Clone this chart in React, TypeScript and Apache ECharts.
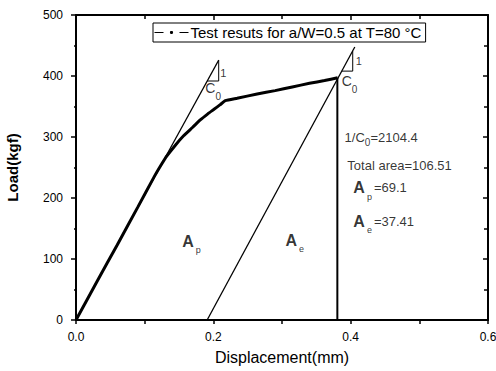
import React, { useEffect, useRef } from "react";
import * as echarts from "echarts";

// Test curve (displacement in mm, load in kgf)
const curveX = [0, 0.03, 0.06, 0.09, 0.113, 0.125, 0.1324, 0.145, 0.1567, 0.17, 0.181, 0.192, 0.2005, 0.21, 0.2175, 0.2346, 0.2638, 0.29, 0.315, 0.34, 0.362, 0.381];
const curveLoad = [0, 62, 123, 185, 233, 256, 269, 287, 302, 316, 328, 338, 345, 353, 359.5, 363.5, 370.5, 376, 382, 388, 392.5, 397];

// Initial tangent (slope 1/C0)
const tangentX = [0, 0.2078];
const tangentLoad = [0, 426];
// Slope triangle on tangent
const tri1X = [0.1908, 0.2078, 0.2078];
const tri1Load = [391.8, 391.8, 426];

// Unloading line (parallel to tangent)
const unloadX = [0.191, 0.406];
const unloadLoad = [0, 447.5];
const tri2X = [0.387, 0.403, 0.403];
const tri2Load = [408, 408, 441];

// Vertical line at max displacement
const vertX = [0.3806, 0.3806];
const vertLoad = [0, 397];

// Axis ticks
const xTicks = [0, 0.2, 0.4, 0.6];
const yTicks = [0, 100, 200, 300, 400, 500];

const legendName = "Test resuts for a/W=0.5 at T=80 °C";

// Annotation texts and their anchors (data coordinates)
const annTexts = [
  "{one|1}",
  "{c|C}{sub|0}",
  "{one|1}",
  "{c|C}{sub|0}",
  "{t|1/C}{sub2|0}{t|=2104.4}",
  "{t|Total area=106.51}",
  "{A|A}{sp|p}{t|=69.1}",
  "{A|A}{se|e}{t|=37.41}",
  "{A|A}{sp2|p}",
  "{A|A}{se2|e}",
];
const annX = [0.2102, 0.1883, 0.4073, 0.3869, 0.3912, 0.3952, 0.4039, 0.4039, 0.1547, 0.3051];
const annLoad = [405, 380.3, 424.6, 391.8, 300, 252.5, 218, 161.5, 128.4, 131];

const pairs = (xs: number[], ys: number[]) => xs.map((x, i) => [x, ys[i]]);

const FONT = "'Liberation Sans', Arial, sans-serif";

export default function App() {
  const ref = useRef<HTMLDivElement>(null);
  useEffect(() => {
    document.body.style.margin = "0";
    const chart = echarts.init(ref.current!, null, { renderer: "svg" });
    const axisLine = { show: true, onZero: false, lineStyle: { color: "#000", width: 2 } };
    const lineSeries = (data: number[][], width: number, name?: string) => ({
      type: "line",
      name,
      data,
      symbol: name ? "circle" : "none",
      showSymbol: false,
      lineStyle: { color: "#000", width },
      itemStyle: { color: "#000" },
      silent: true,
      z: 3,
    });
    chart.setOption({
      animation: false,
      textStyle: { fontFamily: FONT },
      grid: { left: 76, right: 8, top: 15, bottom: 51, containLabel: false, outerBoundsMode: "none" },
      legend: {
        data: [legendName],
        left: 153,
        top: 23,
        itemWidth: 34,
        itemHeight: 4,
        padding: [2, 4, 2, 1],
        borderColor: "#000",
        borderWidth: 1,
        backgroundColor: "#fff",
        selectedMode: false,
        textStyle: { fontSize: 15, color: "#000", fontFamily: FONT, padding: [0, 0, 0, -3] },
        lineStyle: { width: 1, type: [9, 16], color: "#000" },
        itemStyle: { color: "#000" },
      },
      xAxis: [
        {
          type: "value",
          position: "bottom",
          min: xTicks[0],
          max: xTicks[xTicks.length - 1],
          interval: 0.2,
          axisLine,
          axisTick: { show: true, inside: false, length: 4, lineStyle: { color: "#000", width: 1.5 } },
          minorTick: { show: true, splitNumber: 2, length: 4, lineStyle: { color: "#000", width: 1.5 } },
          splitLine: { show: false },
          axisLabel: { color: "#000", fontSize: 12, margin: 11, formatter: (v: number) => v.toFixed(1) },
          name: "Displacement(mm)",
          nameLocation: "middle",
          nameGap: 29,
          nameTextStyle: { color: "#000", fontSize: 16 },
        },
        {
          type: "value",
          position: "top",
          min: xTicks[0],
          max: xTicks[xTicks.length - 1],
          interval: 0.2,
          axisLine,
          axisTick: { show: true, inside: true, length: 5, lineStyle: { color: "#000", width: 1.5 } },
          minorTick: { show: true, splitNumber: 2, length: 4, lineStyle: { color: "#000", width: 1.5 } },
          splitLine: { show: false },
          axisLabel: { show: false },
        },
      ],
      yAxis: [
        {
          type: "value",
          position: "left",
          min: yTicks[0],
          max: yTicks[yTicks.length - 1],
          interval: 100,
          axisLine,
          axisTick: { show: true, inside: false, length: 5, lineStyle: { color: "#000", width: 1.5 } },
          minorTick: { show: true, splitNumber: 2, length: 2, lineStyle: { color: "#000", width: 1.5 } },
          splitLine: { show: false },
          axisLabel: { color: "#000", fontSize: 12, margin: 13 },
          name: "Load(kgf)",
          nameLocation: "middle",
          nameGap: 56,
          nameTextStyle: { color: "#000", fontSize: 15, fontWeight: "bold" },
        },
        {
          type: "value",
          position: "right",
          min: yTicks[0],
          max: yTicks[yTicks.length - 1],
          interval: 100,
          axisLine,
          axisTick: { show: true, inside: true, length: 5, lineStyle: { color: "#000", width: 1.5 } },
          minorTick: { show: true, splitNumber: 2, length: 4, lineStyle: { color: "#000", width: 1.5 } },
          splitLine: { show: false },
          axisLabel: { show: false },
        },
      ],
      series: [
        lineSeries(pairs(tangentX, tangentLoad), 1.2),
        lineSeries(pairs(tri1X, tri1Load), 1),
        lineSeries(pairs(unloadX, unloadLoad), 1.3),
        lineSeries(pairs(tri2X, tri2Load), 1),
        lineSeries(pairs(vertX, vertLoad), 2),
        { ...lineSeries(pairs(curveX, curveLoad), 3, legendName), z: 4, smooth: 0.15 },
        {
          type: "scatter",
          symbolSize: 0,
          silent: true,
          z: 5,
          data: annTexts.map((t, i) => ({ value: [annX[i], annLoad[i]], label: { formatter: t } })),
          label: {
            show: true,
            position: "right",
            distance: 0,
            color: "#000",
            fontFamily: FONT,
            rich: {
              one: { fontSize: 11, color: "#000" },
              c: { fontSize: 14, color: "#000" },
              sub: { fontSize: 10, color: "#000", padding: [16, 0, 0, 0] },
              sub2: { fontSize: 10, color: "#000", padding: [10, 0, 0, 0] },
              t: { fontSize: 13, color: "#000" },
              A: { fontSize: 16, fontWeight: "bold", color: "#000" },
              sp: { fontSize: 9, color: "#000", padding: [20, 2, 0, 2] },
              se: { fontSize: 9, color: "#000", padding: [18, 2, 0, 2] },
              sp2: { fontSize: 9, color: "#000", padding: [16, 0, 0, 2] },
              se2: { fontSize: 9, color: "#000", padding: [18, 0, 0, 2] },
            },
          },
        },
      ],
    });
    return () => chart.dispose();
  }, []);
  return <div ref={ref} style={{ width: 496, height: 371 }} />;
}
